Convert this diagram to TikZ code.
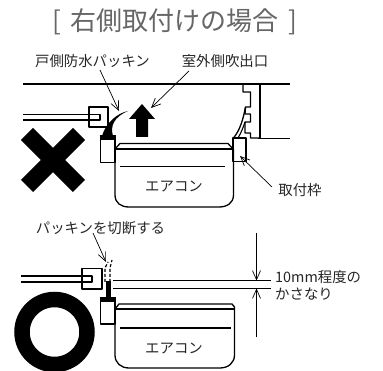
\documentclass[tikz,border=0pt]{standalone}
\usepackage{fontspec}
\setmainfont{Noto Sans CJK JP}
\usetikzlibrary{arrows.meta}
\tikzset{
  wall/.style={line width=1.1pt,black},
  heavy/.style={line width=1.3pt,black,line join=round},
  leader/.style={line width=0.7pt,black,-{Straight Barb[length=9pt,width=8pt,line width=0.7pt]}},
  lbl/.style={inner sep=0pt,font=\fontsize{14.4}{14.4}\selectfont,text=black!85},
  ttl/.style={inner sep=0pt,font=\fontsize{26}{26}\selectfont,text=black!60},
  solid fill/.style={fill=black,draw=none},
}
\begin{document}
\begin{tikzpicture}[x=1pt,y=-1pt]
\useasboundingbox (0,0) rectangle (383,371);
\clip (0,0) rectangle (383,371);
% texts
\node[ttl] (title) at (175,22) {[\hspace{10pt}右側取付けの場合\hspace{10pt}]};
\node[lbl] (door) at (92.5,61) {戸側防水パッキン};
\node[lbl] (vent) at (225,61) {室外側吹出口};
\node[lbl] (frame) at (300,190) {取付枠};
\node[lbl] (ac1) at (174,186) {エアコン};
\node[lbl] (cut) at (100.5,228) {パッキンを切断する};
\node[lbl,anchor=west] (ten) at (275,277) {10mm程度の};
\node[lbl,anchor=west] (over) at (275,294) {かさなり};
\node[lbl] (ac2) at (174,348) {エアコン};
% --- upper figure
\draw[wall] (23,84) -- (290,84);
\draw[wall] (258,138.5) -- (290,138.5);
\draw[wall] (260,84) -- (260,138);
\draw[heavy] (243,84) -- (243,92) -- (250.5,92) -- (250.5,107) -- (245.5,107) -- (245,114) -- (250.5,114) -- (250.5,122) -- (245,122) -- (245,133) -- (250.5,133) -- (250.5,138) -- (260,138);
\draw[heavy] (245.5,107) .. controls (243,120) and (240,130) .. (233.5,138);
\draw[wall] (245,122) .. controls (243,128) and (241,133) .. (238,138);
\draw[heavy] (233,138) rectangle (246,161.5);
% window
\draw[heavy] (100,107) -- (89,107) -- (89,127) -- (108,127) -- (108,107) -- (100,107);
\draw[heavy] (23,114.5) -- (100,114.5) -- (100,120) -- (23,120);
% left frame box and gasket
\draw[heavy] (100.5,136) rectangle (115,162.5);
\fill[solid fill] (100,135) rectangle (115.5,140);
\fill[solid fill] (128,111) .. controls (118,113) and (106,122) .. (102,136) -- (113,136) .. controls (110,126) and (114,117) .. cycle;
% big arrow
\fill[solid fill] (142,104) -- (129,119) -- (136,119) -- (136,137) -- (148,137) -- (148,119) -- (155,119) -- cycle;
% aircon 1
\draw[heavy] (115,149) -- (233.5,149);
\draw[heavy] (115,149) -- (120,143.5) -- (228,143.5) -- (233,149);
\draw[heavy] (115,149) -- (115,195) .. controls (115,203) and (121,207) .. (129,207) -- (219,207) .. controls (227,207) and (233.5,203) .. (233.5,195) -- (233.5,149);
\draw[wall] (120,166.5) -- (225,166.5);
% X
\draw[line width=17pt,black] (27,134) -- (79,186);
\draw[line width=17pt,black] (79,134) -- (27,186);
% leaders 1
\coordinate (a1) at (119,111);
\coordinate (a2) at (151,108);
\coordinate (a3) at (240,156);
\draw[leader] (100,70) -- (a1);
\draw[leader] (189,71) -- (a2);
\draw[leader] (272,187) -- (a3);
% --- lower figure
\draw[heavy] (92,268.5) -- (82,268.5) -- (82,289) -- (102,289) -- (102,268.5) -- (92,268.5);
\draw[heavy] (21,276) -- (92,276) -- (92,282) -- (21,282);
\draw[wall] (113,280.5) -- (271,280.5);
\draw[wall] (113,288.5) -- (271,288.5);
% cut gasket
\draw[line width=1.2pt,dash pattern=on 3pt off 2pt] (105,282) -- (105,268) -- (108,262);
\draw[line width=1.2pt,dash pattern=on 3pt off 2pt] (110,282) -- (110,268) -- (112,260);
\fill[solid fill] (105.5,281) rectangle (111,298);
\draw[heavy] (100.5,298) rectangle (115,324);
\fill[solid fill] (100,297) rectangle (115.5,302);
% aircon 2
\draw[heavy] (115,309) -- (234,309);
\draw[heavy] (115,309) -- (119,304) -- (232,304) -- (234.5,307) -- (234.5,309);
\draw[heavy] (115,309) -- (115,355) .. controls (115,363) and (121,368) .. (129,368) -- (220,368) .. controls (228,368) and (234.5,363) .. (234.5,355) -- (234.5,309);
\draw[wall] (120,328) -- (231,328);
% O
\draw[line width=15.5pt,black] (54.5,332) circle (32.5);
% leaders 2
\coordinate (b1) at (106,262);
\coordinate (d1s) at (256.5,233);
\coordinate (d1e) at (256.5,280.5);
\coordinate (d2s) at (256.5,337);
\coordinate (d2e) at (256.5,288.5);
\draw[leader] (93,233) -- (b1);
\draw[leader] (d1s) -- (d1e);
\draw[leader] (d2s) -- (d2e);
\end{tikzpicture}
\end{document}
